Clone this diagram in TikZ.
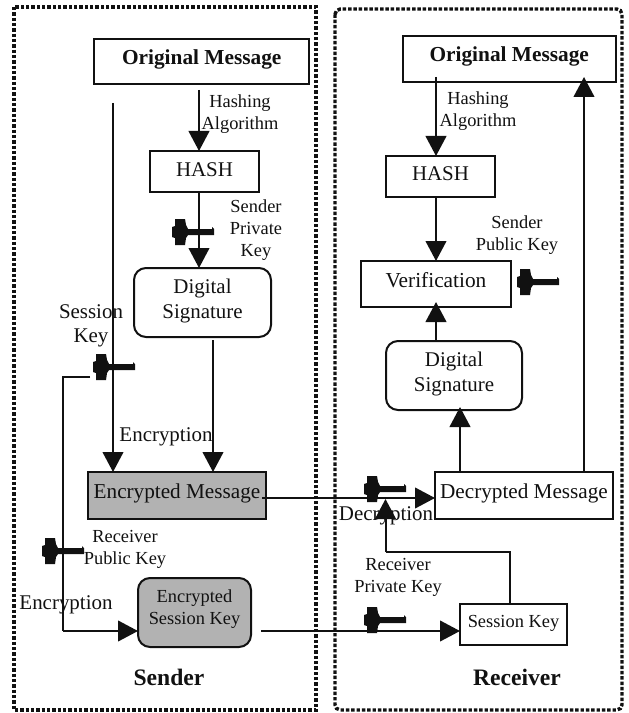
\documentclass[tikz,border=0pt]{standalone}
\usepackage{fontspec}
\setmainfont{Liberation Serif}
\usetikzlibrary{arrows.meta}
\definecolor{ink}{HTML}{111111}
\definecolor{boxgray}{HTML}{B2B2B2}
\newcommand{\shiftup}[2]{\raisebox{#1}[\height][\depth]{#2}}
\newcommand{\twolines}[2]{\begin{tabular}{@{}c@{}}#1\\#2\end{tabular}}
\tikzset{
  x=0.75pt,y=-0.75pt,
  every node/.style={inner sep=0pt,outer sep=0pt,align=center,text=ink},
  lab/.style={font=\fontsize{13.8}{16.5}\selectfont},
  mid/.style={font=\fontsize{15.7}{18}\selectfont},
  dsfont/.style={font=\fontsize{15.7}{18.7}\selectfont},
  big/.style={font=\fontsize{15.9}{20}\selectfont},
  titlefont/.style={font=\fontsize{16}{20}\selectfont\bfseries},
  sidefont/.style={font=\fontsize{17.7}{20}\selectfont\bfseries},
  sq/.style={draw=ink,line width=1.5pt,rectangle},
  rd/.style={draw=ink,line width=1.5pt,rectangle,rounded corners=9pt},
  line/.style={draw=ink,line width=1.5pt},
  arr/.style={draw=ink,line width=1.5pt,-{Triangle[length=15pt,width=15.5pt]}},
  zone/.style={draw=ink,line width=2.6pt,dash pattern=on 2.6pt off 1.4pt},
  keyicon/.pic={
    \fill[ink] (-8,-5) -- (-5,-6) -- (-5,-13) -- (5,-13) -- (6,-7) -- (8,-3) -- (32,-3) -- (32,-5) -- (34,-3) -- (34,3) -- (8,3) -- (6,6) -- (5,13) -- (-5,13) -- (-5,6) -- (-8,5) -- cycle;
  }
}
\begin{document}
\begin{tikzpicture}
\useasboundingbox (0,0) rectangle (628,713);
\fill[white] (0,0) rectangle (628,713);
% zones
\draw[zone] (14,7) rectangle (316,710);
\draw[zone,rounded corners=4pt] (335,9) rectangle (622,710);
% sender boxes
\node[sq,minimum width=161pt,minimum height=33.75pt,titlefont] (omL) at (201.75,61.5) {\shiftup{1.8pt}{Original Message}};
\node[sq,minimum width=81.75pt,minimum height=30.75pt,mid] (hashL) at (204.5,171.5) {\shiftup{1pt}{HASH}};
\node[rd,minimum width=102.75pt,minimum height=51.75pt,dsfont] (dsL) at (202.5,302.5) {\shiftup{1pt}{\twolines{Digital}{Signature}}};
\node[sq,fill=boxgray,minimum width=133.5pt,minimum height=35.25pt,big] (em) at (177,495.5) {\shiftup{1.8pt}{Encrypted Message}};
\node[rd,fill=boxgray,minimum width=84.75pt,minimum height=51.75pt,lab] (esk) at (194.5,612.5) {\shiftup{2.3pt}{\twolines{Encrypted}{Session Key}}};
% receiver boxes
\node[sq,minimum width=160pt,minimum height=34.5pt,titlefont] (omR) at (509.25,59) {\shiftup{1.8pt}{Original Message}};
\node[sq,minimum width=81.75pt,minimum height=30.75pt,mid] (hashR) at (440.5,176.5) {\shiftup{2pt}{HASH}};
\node[sq,minimum width=112.5pt,minimum height=34.5pt,font=\fontsize{16}{20}\selectfont] (ver) at (436,284) {\shiftup{3.2pt}{Verification}};
\node[rd,minimum width=102pt,minimum height=51.75pt,dsfont] (dsR) at (454,375.5) {\shiftup{1pt}{\twolines{Digital}{Signature}}};
\node[sq,minimum width=133.5pt,minimum height=35.25pt,big] (dm) at (524,495.5) {\shiftup{1.8pt}{Decrypted Message}};
\node[sq,minimum width=80.25pt,minimum height=30.75pt,lab] (sk) at (513.5,624.5) {\shiftup{1pt}{Session Key}};
% labels
\node[lab] (l1) at (240,114) {Hashing\\Algorithm};
\node[lab] (l2) at (256,230) {Sender\\Private\\Key};
\node[mid] (l3) at (91,326) {Session\\Key};
\node[mid] (l4) at (166,437) {Encryption};
\node[lab] (l5) at (125,549) {Receiver\\Public Key};
\node[mid] (l6) at (66,605) {Encryption};
\node[sidefont] (l7) at (169,677) {Sender};
\node[lab] (l8) at (478,111) {Hashing\\Algorithm};
\node[lab] (l9) at (517,235) {Sender\\Public Key};
\node[mid] (l10) at (386,516) {Decryption};
\node[lab] (l11) at (398,577) {Receiver\\Private Key};
\node[sidefont] (l12) at (517,677) {Receiver};
% free ends
\coordinate (c1) at (113,103);
\coordinate (c2) at (90,377);
\coordinate (c3) at (63,377);
\coordinate (c4) at (63,631);
\coordinate (c5) at (213,340);
\coordinate (c6) at (261,631);
\coordinate (c7) at (510,552);
\coordinate (c8) at (385.5,552);
\coordinate (c9) at (385.5,499);
\coordinate (c10) at (262,498);
\coordinate (c11) at (199,90);
\coordinate (c12) at (436,77);
\coordinate (c13) at (584,77);
\coordinate (c14) at (436,302);
\coordinate (c15) at (460,407);
% connectors, sender
\draw[arr] (c11) -- (hashL.north -| c11);
\draw[arr] (hashL.south -| c11) -- (dsL.north -| c11);
\draw[arr] (c1) -- (em.north -| c1);
\draw[arr] (c5) -- (em.north -| c5);
\draw[line] (c2) -- (c3) -- (c4);
\draw[arr] (c4) -- (esk.west |- c4);
% connectors, between and receiver
\draw[arr] (c10) -- (dm.west |- c10);
\draw[arr] (c6) -- (sk.west |- c6);
\draw[line] (sk.north -| c7) -- (c7) -- (c8);
\draw[arr] (c8) -- (c9);
\draw[arr] (dm.north -| c15) -- (c15);
\draw[arr] (dsR.north -| c14) -- (c14);
\draw[arr] (hashR.south -| c14) -- (ver.north -| c14);
\draw[arr] (c12) -- (hashR.north -| c12);
\draw[arr] (dm.north -| c13) -- (c13);
% keys
\pic at (180,232) {keyicon};
\pic at (101,367) {keyicon};
\pic at (50,551) {keyicon};
\pic at (372,489) {keyicon};
\pic at (372,620) {keyicon};
\pic at (525,282) {keyicon};
\end{tikzpicture}
\end{document}
